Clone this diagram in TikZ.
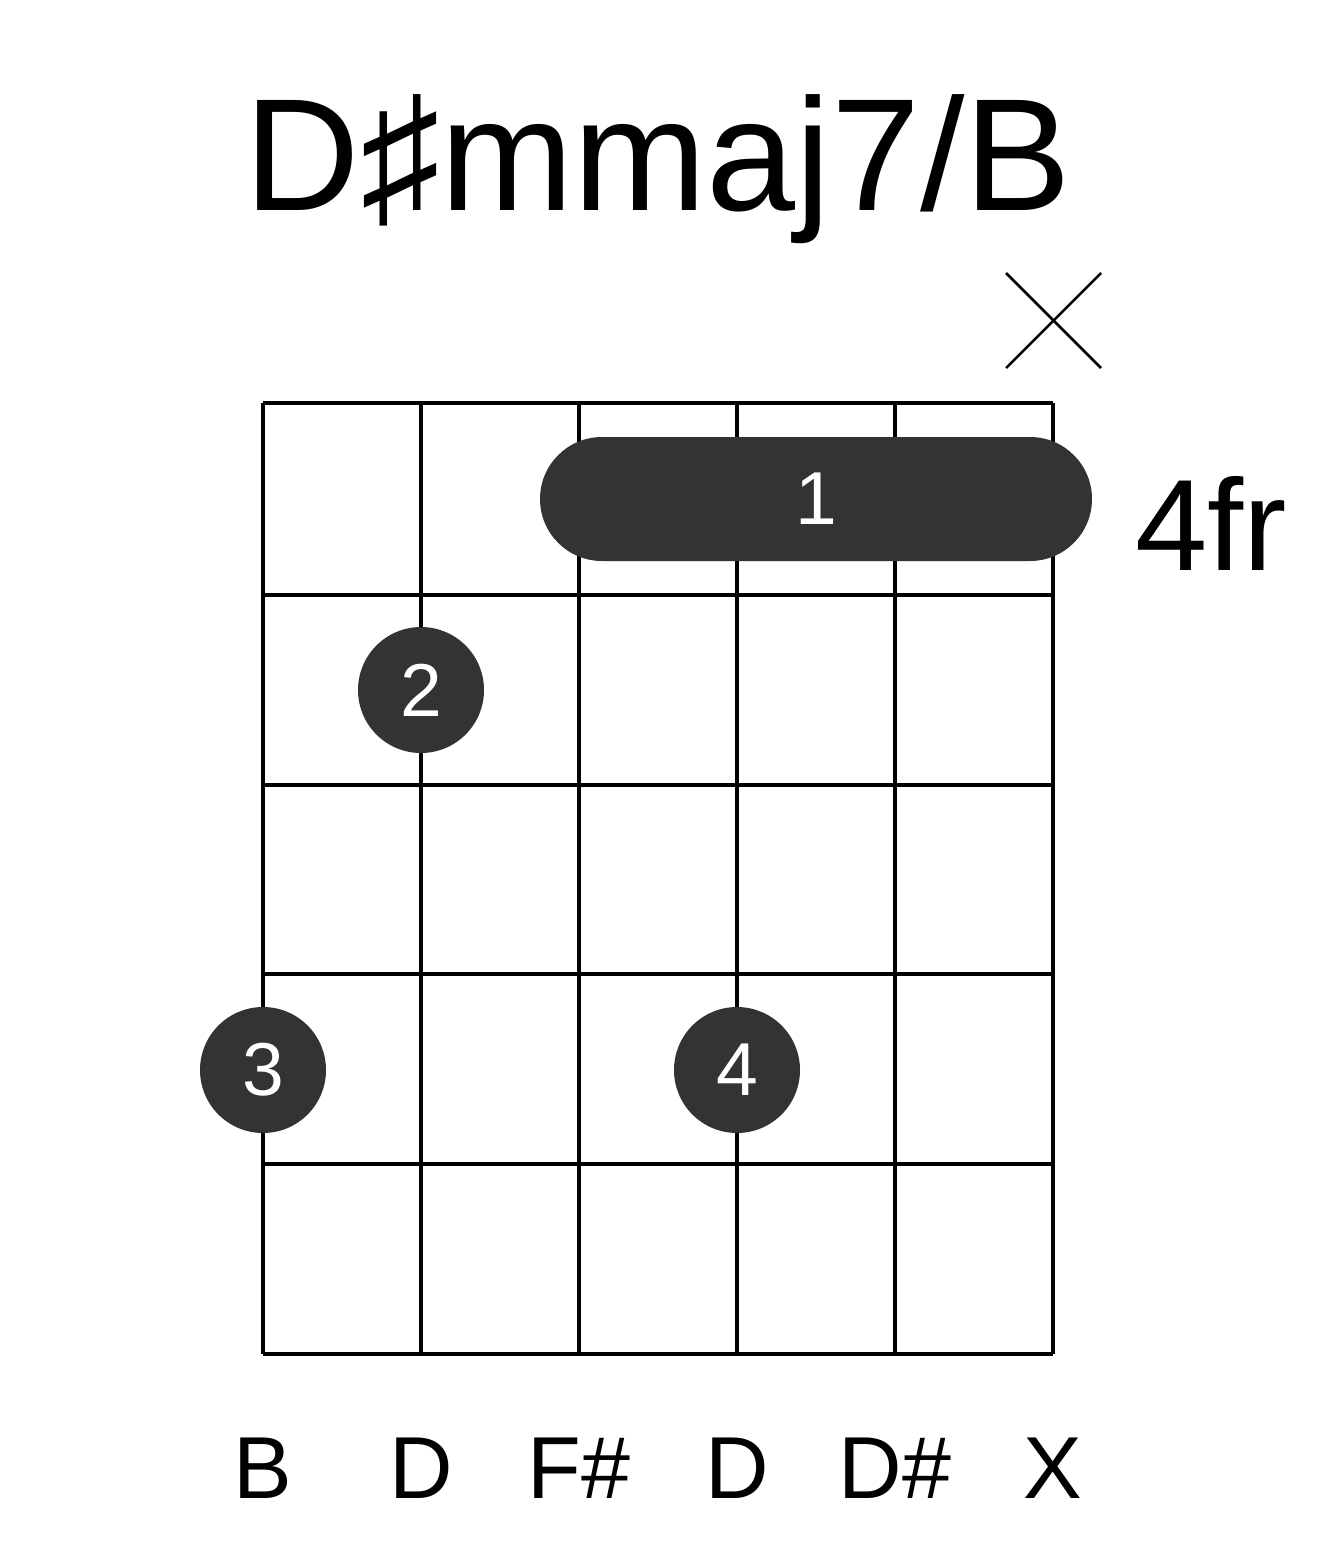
\documentclass[tikz,border=0pt]{standalone}
\usepackage{fontspec}
\setmainfont{Liberation Sans}
\begin{document}
\begin{tikzpicture}[x=1pt,y=-1pt,
  grid/.style={line width=4pt,black},
  dot/.style={circle,fill=black!80,minimum size=126pt,inner sep=0pt,text=white,font=\fontsize{75}{75}\selectfont},
  lbl/.style={font=\fontsize{88}{88}\selectfont,anchor=base}]
\useasboundingbox (0,0) rectangle (1317,1551);
\foreach \x in {263,421,579,737,895,1053} \draw[grid] (\x,403) -- (\x,1354);
\foreach \y in {403,595,785,974,1164,1354} \draw[grid] (263,\y) -- (1053,\y);
\node[font=\fontsize{160}{160}\selectfont,anchor=base] (title) at (658,210) {D♯mmaj7/B};
\draw[line width=2.5pt] (1006,273) -- (1101,368) (1006,368) -- (1101,273);
\node[fill=black!80,rounded corners=62pt,minimum width=552pt,minimum height=124pt,text=white,font=\fontsize{75}{75}\selectfont] (barre) at (816,499) {1};
\node[dot] (d2) at (421,690) {2};
\node[dot] (d3) at (263,1070) {3};
\node[dot] (d4) at (737,1070) {4};
\node[font=\fontsize{130}{130}\selectfont,anchor=base west] (fr) at (1132,570) {4fr};
\foreach \x/\t in {263/B,421/D,579/F\#,737/D,895/D\#,1053/X} \node[lbl] at (\x,1498) {\t};
\end{tikzpicture}
\end{document}
